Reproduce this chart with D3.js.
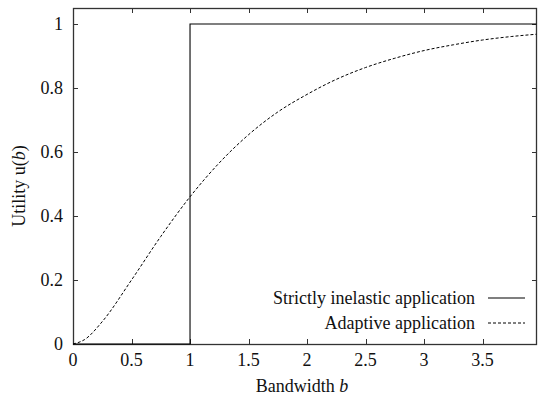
<!DOCTYPE html>
<html>
<head>
<meta charset="utf-8">
<script src="https://cdn.jsdelivr.net/npm/d3@7"></script>
<style>
  html, body { margin: 0; padding: 0; background: #fff; }
  svg { display: block; }
  text { font-family: "Liberation Serif", "DejaVu Serif", "Times New Roman", serif; font-size: 18px; fill: #111; }
</style>
</head>
<body>
<svg id="chart" width="538" height="397"></svg>
<script>
// values
const xTicks = [0, 0.5, 1, 1.5, 2, 2.5, 3, 3.5];
const yTicks = [0, 0.2, 0.4, 0.6, 0.8, 1];

const inelasticB = [0, 1, 1, 3.96];
const inelasticU = [0, 0, 1, 1];

const adaptiveB = [0, 0.1, 0.25, 0.5, 0.75, 1, 1.25, 1.5, 1.75, 2, 2.25, 2.5, 2.75, 3, 3.25, 3.5, 3.75, 3.96];
const adaptiveU = [0, 0.014, 0.07, 0.2, 0.336, 0.46, 0.566, 0.654, 0.725, 0.78, 0.827, 0.864, 0.893, 0.917, 0.935, 0.95, 0.961, 0.968];

const legendLabels = ["Strictly inelastic application", "Adaptive application"];

const svg = d3.select("#chart");
const margin = { top: 8, right: 1, bottom: 53, left: 73 };
const width = 538, height = 397;

const x = d3.scaleLinear().domain([0, 3.965]).range([margin.left, width - margin.right]);
const y = d3.scaleLinear().domain([0, 1.05]).range([height - margin.bottom, margin.top]);

const frameColor = "#333";
const tickLen = 5;

// frame
svg.append("rect")
  .attr("x", x(0) + 0.5)
  .attr("y", y(1.05) + 0.5)
  .attr("width", x(3.965) - x(0) - 1)
  .attr("height", y(0) - y(1.05))
  .attr("fill", "none")
  .attr("stroke", frameColor)
  .attr("stroke-width", 1.3);

// ticks inside, mirrored
const ticks = svg.append("g").attr("stroke", frameColor).attr("stroke-width", 1);
xTicks.forEach(t => {
  const px = Math.round(x(t)) + 0.5;
  ticks.append("line").attr("x1", px).attr("x2", px).attr("y1", y(0)).attr("y2", y(0) - tickLen);
  ticks.append("line").attr("x1", px).attr("x2", px).attr("y1", y(1.05)).attr("y2", y(1.05) + tickLen);
});
yTicks.forEach(t => {
  const py = Math.round(y(t)) + 0.5;
  ticks.append("line").attr("x1", x(0)).attr("x2", x(0) + tickLen).attr("y1", py).attr("y2", py);
  ticks.append("line").attr("x1", x(3.965)).attr("x2", x(3.965) - tickLen).attr("y1", py).attr("y2", py);
});

// tick labels
svg.append("g").selectAll("text")
  .data(xTicks)
  .join("text")
  .attr("x", d => x(d))
  .attr("y", y(0) + 22)
  .attr("text-anchor", "middle")
  .text(d => d);

svg.append("g").selectAll("text")
  .data(yTicks)
  .join("text")
  .attr("x", x(0) - 10)
  .attr("y", d => y(d) + 6)
  .attr("text-anchor", "end")
  .text(d => d);

// axis titles
const xt = svg.append("text")
  .attr("x", 302)
  .attr("y", 392)
  .attr("text-anchor", "middle");
xt.append("tspan").text("Bandwidth ");
xt.append("tspan").attr("font-style", "italic").text("b");

const yt = svg.append("text")
  .attr("transform", "translate(25,186) rotate(-90)")
  .attr("text-anchor", "middle");
yt.append("tspan").text("Utility u(");
yt.append("tspan").attr("font-style", "italic").text("b");
yt.append("tspan").text(")");

// curves
const line = d3.line().x(d => x(d[0])).y(d => y(d[1]));
const smooth = d3.line().x(d => x(d[0])).y(d => y(d[1])).curve(d3.curveMonotoneX);

svg.append("path")
  .attr("d", line(d3.zip(inelasticB, inelasticU)))
  .attr("fill", "none")
  .attr("stroke", "#000")
  .attr("stroke-width", 1.1);

svg.append("path")
  .attr("d", smooth(d3.zip(adaptiveB, adaptiveU)))
  .attr("fill", "none")
  .attr("stroke", "#000")
  .attr("stroke-width", 1)
  .attr("stroke-dasharray", "3 2");

// legend
const legend = svg.append("g");
legendLabels.forEach((label, i) => {
  const ly = 298 + i * 25;
  legend.append("text")
    .attr("x", 475)
    .attr("y", ly + 6)
    .attr("text-anchor", "end")
    .text(label);
  legend.append("line")
    .attr("x1", 488).attr("x2", 525)
    .attr("y1", ly).attr("y2", ly)
    .attr("stroke", "#000")
    .attr("stroke-width", i === 0 ? 1.1 : 1)
    .attr("stroke-dasharray", i === 0 ? null : "3 2");
});
</script>
</body>
</html>
